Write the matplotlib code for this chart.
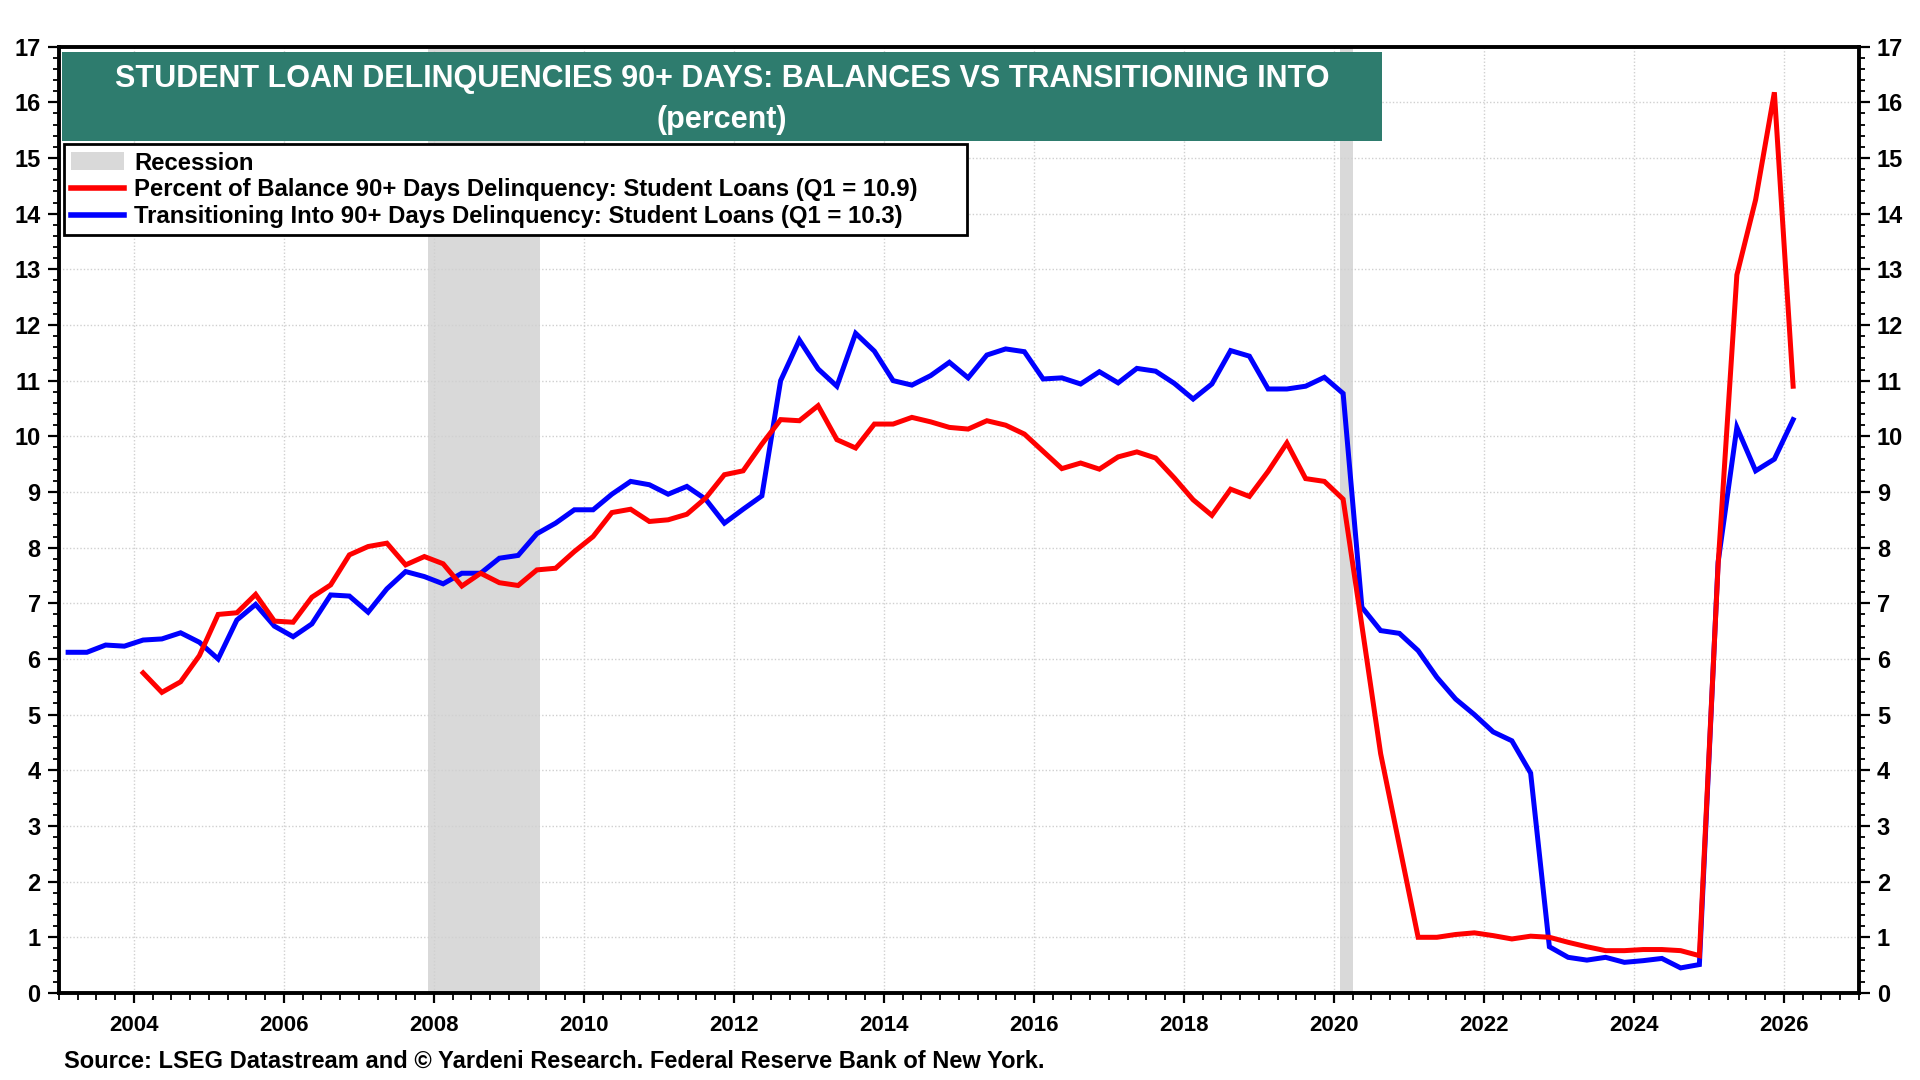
import matplotlib
matplotlib.use("Agg")
import matplotlib.pyplot as plt
from matplotlib.patches import Rectangle, Patch
from matplotlib.lines import Line2D
from matplotlib.ticker import MultipleLocator
import numpy as np

plt.rcParams['font.family'] = ['Liberation Sans', 'DejaVu Sans']
plt.rcParams['font.weight'] = 'bold'

# ---------------- data ----------------
# Transitioning into 90+ days delinquency (quarterly, starting 2003 Q1)
transition_start = (2003, 1)
transition = [
    6.12, 6.12, 6.25, 6.23,      # 2003
    6.34, 6.36, 6.47, 6.30,      # 2004
    6.00, 6.70, 6.98, 6.59,      # 2005
    6.40, 6.63, 7.15, 7.13,      # 2006
    6.84, 7.26, 7.57, 7.48,      # 2007
    7.35, 7.54, 7.54, 7.81,      # 2008
    7.86, 8.25, 8.44, 8.68,      # 2009
    8.68, 8.96, 9.19, 9.13,      # 2010
    8.96, 9.10, 8.87, 8.44,      # 2011
    8.69, 8.93, 11.00, 11.73,    # 2012
    11.21, 10.90, 11.85, 11.53,  # 2013
    11.00, 10.92, 11.09, 11.33,  # 2014
    11.05, 11.46, 11.57, 11.52,  # 2015
    11.03, 11.05, 10.94, 11.16,  # 2016
    10.96, 11.22, 11.17, 10.95,  # 2017
    10.67, 10.94, 11.54, 11.44,  # 2018
    10.85, 10.85, 10.90, 11.06,  # 2019
    10.77, 6.93, 6.51, 6.46,     # 2020
    6.15, 5.67, 5.28, 5.00,      # 2021
    4.69, 4.53, 3.95, 0.83,      # 2022
    0.64, 0.59, 0.64, 0.55,      # 2023
    0.58, 0.62, 0.45, 0.51,      # 2024
    7.74, 10.16, 9.38, 9.59,     # 2025
    10.30,                       # 2026
]

# Percent of balance 90+ days delinquent (quarterly, starting 2004 Q1)
balance_start = (2004, 1)
balance = [
    5.75, 5.40, 5.59, 6.06,      # 2004
    6.80, 6.83, 7.16, 6.68,      # 2005
    6.66, 7.11, 7.33, 7.87,      # 2006
    8.02, 8.08, 7.69, 7.84,      # 2007
    7.71, 7.31, 7.54, 7.37,      # 2008
    7.32, 7.60, 7.63, 7.93,      # 2009
    8.20, 8.63, 8.69, 8.47,      # 2010
    8.50, 8.60, 8.89, 9.31,      # 2011
    9.38, 9.86, 10.30, 10.28,    # 2012
    10.55, 9.94, 9.79, 10.22,    # 2013
    10.22, 10.34, 10.26, 10.16,  # 2014
    10.13, 10.28, 10.20, 10.04,  # 2015
    9.73, 9.42, 9.52, 9.41,      # 2016
    9.63, 9.72, 9.61, 9.25,      # 2017
    8.86, 8.58, 9.05, 8.92,      # 2018
    9.37, 9.88, 9.24, 9.19,      # 2019
    8.87, 6.60, 4.30, 2.65,      # 2020
    1.00, 1.00, 1.05, 1.08,      # 2021
    1.03, 0.97, 1.02, 1.00,      # 2022
    0.91, 0.83, 0.76, 0.76,      # 2023
    0.78, 0.78, 0.76, 0.67,      # 2024
    7.70, 12.90, 14.25, 16.18,   # 2025
    10.90,                       # 2026
]

# Recessions (year, month) start / end
recessions = [((2007, 12), (2009, 6)), ((2020, 2), (2020, 4))]

x_tick_years = list(range(2004, 2027, 2))
y_ticks = list(range(0, 18))

title_lines = ["STUDENT LOAN DELINQUENCIES 90+ DAYS: BALANCES VS TRANSITIONING INTO",
               "(percent)"]
label_recession = "Recession"
label_balance = "Percent of Balance 90+ Days Delinquency: Student Loans (Q1 = 10.9)"
label_transition = "Transitioning Into 90+ Days Delinquency: Student Loans (Q1 = 10.3)"
source_text = "Source: LSEG Datastream and \u00a9 Yardeni Research. Federal Reserve Bank of New York."


def quarter_positions(start, n):
    y0, q0 = start
    idx = np.arange(n) + (q0 - 1)
    return y0 + idx * 0.25 + 0.125  # mid-quarter


def ym(y, m):
    return y + (m - 1) / 12.0


RED = "#FF0000"
BLUE = "#0000FF"
TEAL = "#2E7C6E"
GRAY = "#D9D9D9"

fig = plt.figure(figsize=(19.2, 10.8), dpi=100)
ax = fig.add_axes([0.0306, 0.0806, 0.9375, 0.8762])

for (s, e) in recessions:
    ax.axvspan(ym(*s), ym(*e), color=GRAY, lw=0, zorder=0)

xb = quarter_positions(balance_start, len(balance))
xt = quarter_positions(transition_start, len(transition))
ax.plot(xt, transition, color=BLUE, lw=3.6, zorder=3, solid_joinstyle='miter')
ax.plot(xb, balance, color=RED, lw=3.6, zorder=4, solid_joinstyle='miter')

ax.set_xlim(2003.0, 2027.0)
ax.set_ylim(0, 17)

ax.set_xticks(x_tick_years)
ax.set_xticklabels([str(y) for y in x_tick_years])
ax.xaxis.set_minor_locator(MultipleLocator(0.25))
ax.set_yticks(y_ticks)
ax.set_yticklabels([str(v) for v in y_ticks])
ax.yaxis.set_minor_locator(MultipleLocator(0.2))

ax.grid(True, which='major', color='#D0D0D0', linestyle=(0, (1, 1.5)), lw=1.0, zorder=1)
ax.set_axisbelow(True)

ax.tick_params(axis='y', which='both', left=True, right=True, labelleft=True,
               labelright=True, direction='out', labelsize=17, pad=5)
ax.tick_params(axis='y', which='major', length=8, width=1.6)
ax.tick_params(axis='y', which='minor', length=4, width=1.3)
ax.tick_params(axis='x', which='major', length=7, width=1.6, labelsize=16, pad=9)
ax.tick_params(axis='x', which='minor', length=5, width=1.3)
for lab in ax.get_xticklabels() + ax.get_yticklabels():
    lab.set_fontweight('bold')

for sp in ax.spines.values():
    sp.set_linewidth(2.8)
    sp.set_color('black')
    sp.set_zorder(10)

# Title box
ax.add_patch(Rectangle((0.002, 0.9007), 0.733, 0.094, transform=ax.transAxes,
                       facecolor=TEAL, edgecolor='none', zorder=6))
ax.text(0.3685, 0.966, title_lines[0], transform=ax.transAxes, ha='center',
        va='center', color='white', fontsize=22, fontweight='bold', zorder=7)
ax.text(0.3685, 0.9225, title_lines[1], transform=ax.transAxes, ha='center',
        va='center', color='white', fontsize=22, fontweight='bold', zorder=7)

handles = [Patch(facecolor=GRAY, edgecolor='none', label=label_recession),
           Line2D([], [], color=RED, lw=4, label=label_balance),
           Line2D([], [], color=BLUE, lw=4, label=label_transition)]
leg = ax.legend(handles=handles, loc='upper left',
                bbox_to_anchor=(0.0028, 0.6967, 0.502, 0.2), mode='expand',
                borderaxespad=0, fancybox=False, framealpha=1, edgecolor='black',
                prop={'size': 17.2, 'weight': 'bold'}, handlelength=2.2,
                handleheight=0.8, handletextpad=0.45, labelspacing=0.16,
                borderpad=0.3)
leg.get_frame().set_linewidth(2.0)
leg.set_zorder(8)

fig.text(64 / 1920, 1 - 1061 / 1080, source_text, ha='left', va='center',
         fontsize=17, fontweight='bold')

fig.savefig("out.png", dpi=100)
